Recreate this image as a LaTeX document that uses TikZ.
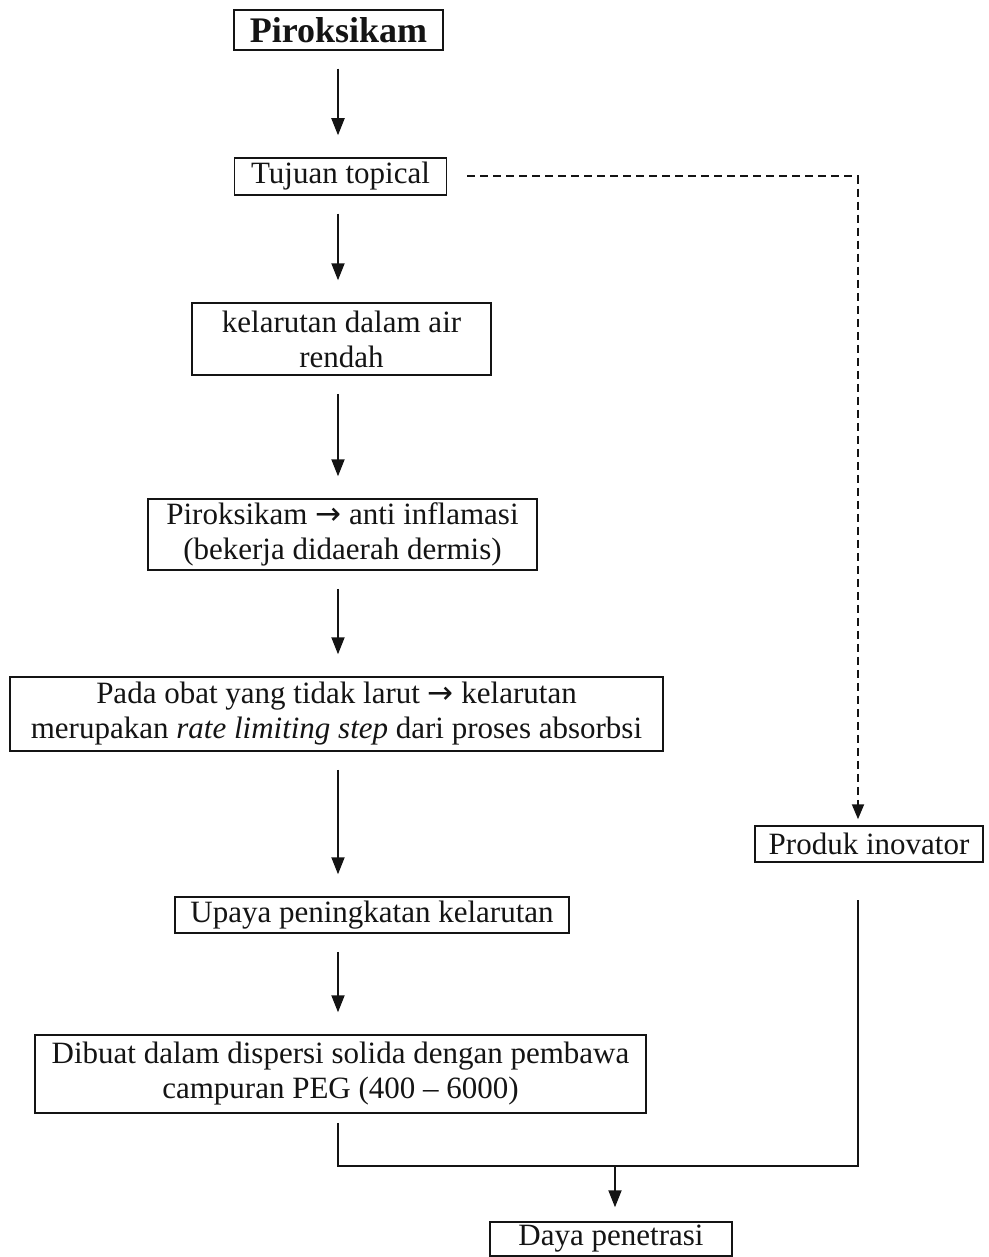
\documentclass[tikz,border=0pt]{standalone}
\usepackage{fontspec}
\setmainfont{Liberation Serif}
\newfontfamily\arrowfont{DejaVu Sans}
\newcommand{\yields}{{\arrowfont →}}
\usetikzlibrary{arrows.meta,positioning}
\definecolor{ink}{HTML}{141414}
\tikzset{
 flowbox/.style={draw=ink,line width=1.5pt,align=center,text=ink,inner sep=2pt,font=\fontsize{31}{35}\selectfont},
 flow/.style={-{Triangle[length=17pt,width=13pt]},draw=ink,line width=2pt,shorten <=18pt,shorten >=22pt},
 dashflow/.style={-{Triangle[length=15pt,width=12pt]},draw=ink,line width=2pt,dash pattern=on 8pt off 5pt},
 mergeline/.style={draw=ink,line width=2pt}
}
\begin{document}
\begin{tikzpicture}[x=1pt,y=-1pt]
  \useasboundingbox[fill=white] (0,0) rectangle (988,1257);

  \node[flowbox,minimum width=209pt,minimum height=40pt,font=\fontsize{36}{40}\selectfont\bfseries] (drug) at (338.5,30) {Piroksikam};
  \node[flowbox,minimum width=212pt,minimum height=37pt] (topical) at (340.5,176.5) {Tujuan topical};
  \node[flowbox,minimum width=299pt,minimum height=72pt] (solub) at (341.5,339) {kelarutan dalam air\\rendah};
  \node[flowbox,minimum width=389pt,minimum height=71pt] (dermis) at (342.5,534.5) {Piroksikam \yields{} anti inflamasi\\(bekerja didaerah dermis)};
  \node[flowbox,minimum width=653pt,minimum height=74pt] (ratestep) at (336.5,714) {Pada obat yang tidak larut \yields{} kelarutan\\merupakan \textit{rate limiting step} dari proses absorbsi};
  \node[flowbox,minimum width=228pt,minimum height=36pt] (innov) at (869,844) {Produk inovator};
  \node[flowbox,minimum width=394pt,minimum height=36pt] (effort) at (372,915) {Upaya peningkatan kelarutan};
  \node[flowbox,minimum width=611pt,minimum height=78pt] (disp) at (340.5,1074) {Dibuat dalam dispersi solida dengan pembawa\\campuran PEG (400 -- 6000)};
  \node[flowbox,minimum width=242pt,minimum height=34pt] (penet) at (611,1239) {Daya penetrasi};

  \coordinate (axis) at (338,0);
  \coordinate (rail) at (858,900);
  \coordinate (merge) at (615,1166);

  \draw[flow] (drug.south -| axis) -- (topical.north -| axis);
  \draw[flow] (topical.south -| axis) -- (solub.north -| axis);
  \draw[flow] (solub.south -| axis) -- (dermis.north -| axis);
  \draw[flow] (dermis.south -| axis) -- (ratestep.north -| axis);
  \draw[flow] (ratestep.south -| axis) -- (effort.north -| axis);
  \draw[flow] (effort.south -| axis) -- (disp.north -| axis);
  \draw[dashflow,shorten <=20pt,shorten >=6pt] (topical.east) -| (rail |- innov.north);
  \draw[mergeline,shorten <=9pt] (disp.south -| axis) -- (merge -| axis) -- (rail |- merge) -- (rail);
  \draw[flow,shorten <=0pt,shorten >=14pt] (merge) -- (penet.north -| merge);
\end{tikzpicture}
\end{document}
